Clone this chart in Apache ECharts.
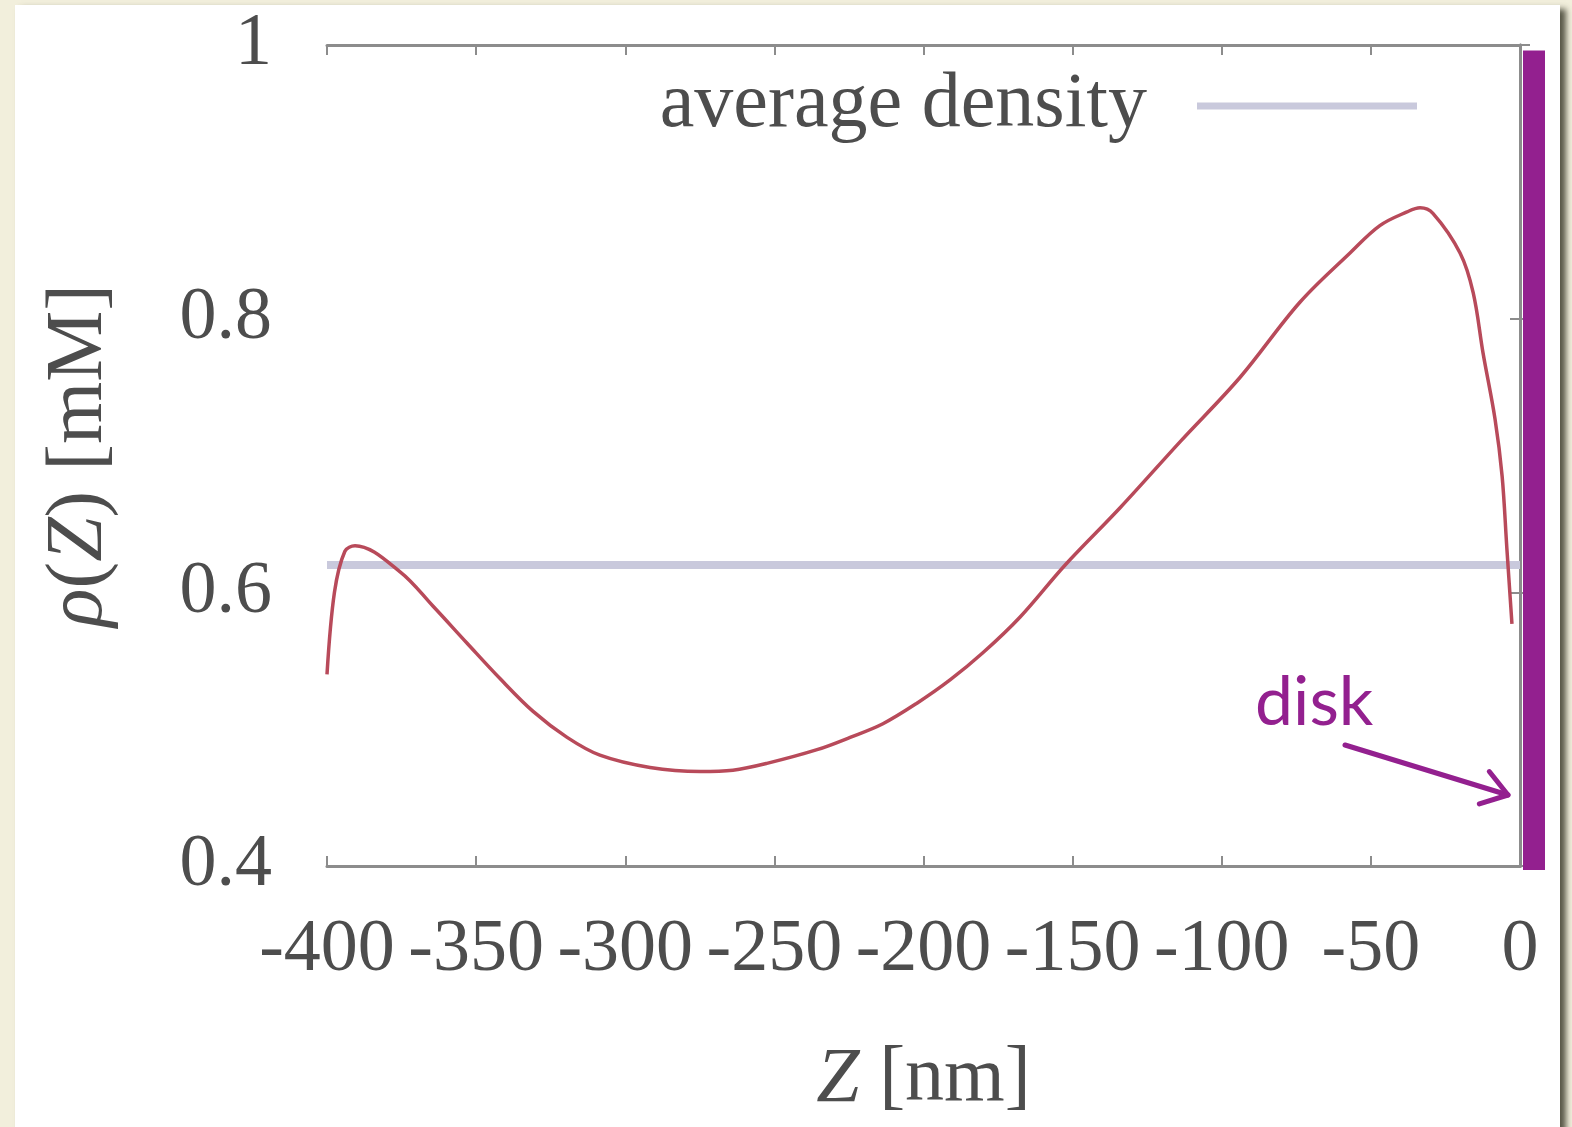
<!DOCTYPE html>
<html>
<head>
<meta charset="utf-8">
<script src="https://cdn.jsdelivr.net/npm/echarts@6/dist/echarts.min.js"></script>
<style>
html,body{margin:0;padding:0;background:#f2efdc;}
#wrap{position:absolute;left:0;top:0;width:1572px;height:1127px;background:#f2efdc;overflow:hidden;}
#panel{position:absolute;left:15px;top:5px;width:1545px;height:1140px;background:#fff;box-shadow:6px 4px 6px rgba(60,60,45,0.85);}
#chart{position:absolute;left:0;top:0;width:1572px;height:1127px;}
</style>
</head>
<body>
<div id="wrap"><div id="panel"></div><div id="chart"></div></div>
<script>
// data
const zValues   = [-400, -397.5, -394, -390.6, -375.5, -364.5, -353.1, -342.0, -330.9, -319.5, -308.5, -291.7, -274.9, -263.9, -252.5, -235.7, -224.6, -213.6, -202.2, -191.1, -180.0, -167.6, -152.5, -134, -114, -93.9, -73.8, -57, -47, -37.9, -33.5, -29.2, -20.1, -15.7, -12.4, -8.4, -6.0, -4.4, -2.7];
const rhoValues = [0.540, 0.600, 0.630, 0.634, 0.615, 0.590, 0.563, 0.537, 0.513, 0.494, 0.481, 0.472, 0.469, 0.470, 0.475, 0.485, 0.494, 0.504, 0.519, 0.536, 0.556, 0.582, 0.620, 0.662, 0.710, 0.757, 0.812, 0.848, 0.868, 0.878, 0.881, 0.877, 0.848, 0.819, 0.775, 0.727, 0.685, 0.632, 0.577];
const avgZ = [-400, 0];
const avgRho = [0.62, 0.62];
const xTicks = [-400, -350, -300, -250, -200, -150, -100, -50, 0];
const yTicks = [0.4, 0.6, 0.8, 1];
const legendName = 'average density';
const diskLabel = 'disk';

const serif = '"Liberation Serif", "DejaVu Serif", serif';
const textCol = '#4d4d4d';
const frameCol = '#8c8c8c';
const purple = '#93208f';

const chart = echarts.init(document.getElementById('chart'), null, {renderer: 'canvas'});

const axisCommon = {
  type: 'value',
  axisLine: {show: true, lineStyle: {color: frameCol, width: 3}},
  axisTick: {show: true, inside: true, length: 10, lineStyle: {color: frameCol, width: 2}},
  splitLine: {show: false}
};

const option = {
  backgroundColor: 'transparent',
  animation: false,
  grid: {left: 327, right: 52, top: 45, bottom: 261},
  legend: {
    data: [{name: legendName, icon: 'rect'}],
    right: 150, top: 62,
    align: 'right',
    itemWidth: 220, itemHeight: 7, itemGap: 10,
    textStyle: {fontFamily: serif, fontSize: 78, color: textCol, padding: [0, 45, 0, 0]}
  },
  xAxis: [
    Object.assign({}, axisCommon, {
      min: -400, max: 0, interval: 50, position: 'bottom',
      axisLabel: {fontFamily: serif, fontSize: 74, color: textCol, margin: 48,
        formatter: v => xTicks.includes(v) ? String(v) : ''},
      name: '{i|Z} [nm]', nameLocation: 'middle', nameGap: 175,
      nameTextStyle: {fontFamily: serif, fontSize: 78, color: textCol,
        rich: {i: {fontFamily: serif, fontStyle: 'italic', fontSize: 78, color: textCol}}},
    }),
    Object.assign({}, axisCommon, {
      min: -400, max: 0, interval: 50, position: 'top', axisLabel: {show: false}
    })
  ],
  yAxis: [
    Object.assign({}, axisCommon, {
      min: 0.4, max: 1, interval: 0.2, position: 'left',
      axisLabel: {fontFamily: serif, fontSize: 74, color: textCol, margin: 55,
        formatter: v => { const t = yTicks.find(y => Math.abs(y - v) < 1e-9); return t === undefined ? '' : String(t); }},
      name: '{i|ρ}({i|Z}) [mM]', nameLocation: 'middle', nameGap: 207, nameRotate: 90,
      nameTextStyle: {fontFamily: serif, fontSize: 80, color: textCol,
        rich: {i: {fontFamily: serif, fontStyle: 'italic', fontSize: 80, color: textCol}}}
    }),
    Object.assign({}, axisCommon, {
      min: 0.4, max: 1, interval: 0.2, position: 'right', axisLabel: {show: false}
    })
  ],
  series: [
    {
      name: legendName, type: 'line', xAxisIndex: 0, yAxisIndex: 0,
      data: avgZ.map((z, i) => [z, avgRho[i]]),
      showSymbol: false, symbol: 'none',
      itemStyle: {color: '#c9c9dc'},
      lineStyle: {color: '#c9c9dc', width: 8}
    },
    {
      name: 'rho', type: 'line', xAxisIndex: 0, yAxisIndex: 0,
      data: zValues.map((z, i) => [z, rhoValues[i]]),
      smooth: 0.35, showSymbol: false, symbol: 'none',
      itemStyle: {color: '#b84a5a'},
      lineStyle: {color: '#b84a5a', width: 3.5}
    }
  ]
};
chart.setOption(option);

// annotation: disk bar at Z = 0, label and arrow
const pTop = chart.convertToPixel({xAxisIndex: 0, yAxisIndex: 0}, [0, 0.996]);
const pBot = chart.convertToPixel({xAxisIndex: 0, yAxisIndex: 0}, [0, 0.4]);
const bx = pTop[0];
const tipX = bx - 12, tipY = pBot[1] - 71;
const tailX = bx - 175, tailY = pBot[1] - 121;
const ang = Math.atan2(tipY - tailY, tipX - tailX);
const hl = 30, ha = 0.6;
chart.setOption({
  graphic: [
    {type: 'rect', shape: {x: bx + 3, y: pTop[1], width: 22, height: pBot[1] - pTop[1] + 4},
      style: {fill: purple}, z: 100},
    {type: 'text', x: tailX - 90, y: tailY - 76,
      style: {text: diskLabel, fill: purple, font: '400 68px Lato, "Open Sans", sans-serif'}, z: 100},
    {type: 'polyline', shape: {points: [[tailX, tailY], [tipX, tipY]]},
      style: {stroke: purple, lineWidth: 5, lineCap: 'round'}, z: 100},
    {type: 'polyline', shape: {points: [
        [tipX - hl * Math.cos(ang - ha), tipY - hl * Math.sin(ang - ha)],
        [tipX, tipY],
        [tipX - hl * Math.cos(ang + ha), tipY - hl * Math.sin(ang + ha)]]},
      style: {stroke: purple, lineWidth: 5, lineCap: 'round', lineJoin: 'round', fill: null}, z: 100}
  ]
});
</script>
</body>
</html>
